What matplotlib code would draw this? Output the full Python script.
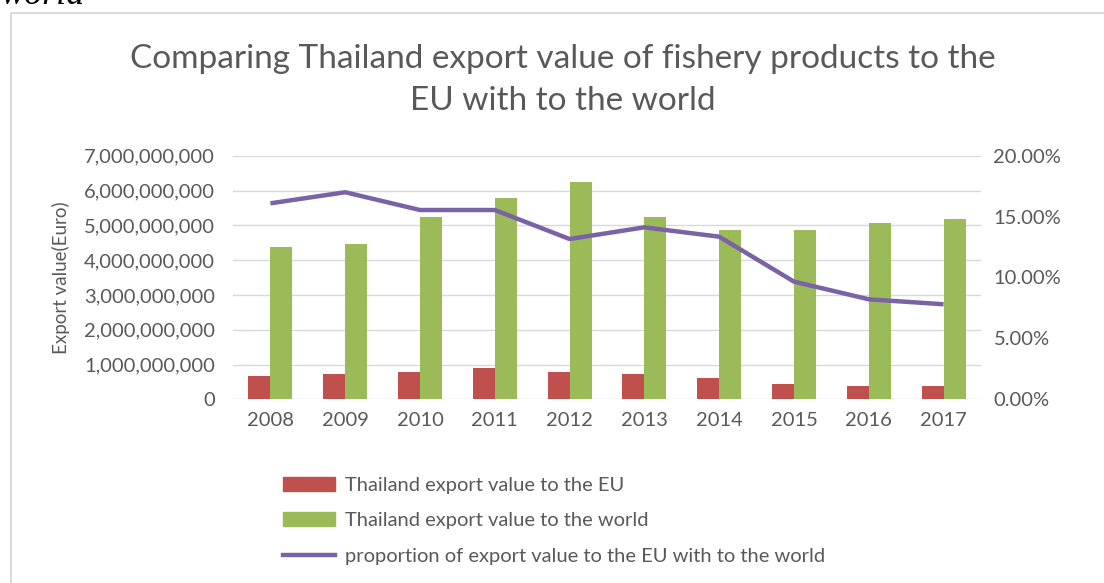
import matplotlib
matplotlib.use("Agg")
import matplotlib.pyplot as plt
from matplotlib.patches import Rectangle
from matplotlib.lines import Line2D
from matplotlib.ticker import FuncFormatter, MultipleLocator
import numpy as np

years = ["2008", "2009", "2010", "2011", "2012", "2013", "2014", "2015", "2016", "2017"]
export_eu = [0.67e9, 0.72e9, 0.78e9, 0.89e9, 0.78e9, 0.72e9, 0.62e9, 0.45e9, 0.39e9, 0.39e9]
export_world = [4.39e9, 4.45e9, 5.23e9, 5.79e9, 6.24e9, 5.23e9, 4.86e9, 4.86e9, 5.06e9, 5.17e9]
share_eu = [0.1609, 0.1700, 0.1554, 0.1554, 0.1316, 0.1412, 0.1335, 0.0966, 0.0821, 0.0780]

labels = [
    "Thailand export value to the EU",
    "Thailand export value to the world",
    "proportion of export value to the EU with to the world",
]

RED = "#C0504D"
GREEN = "#9BBB59"
PURPLE = "#7A62A4"
TEXT = "#595959"
GRID = "#D9D9D9"
FONT = "Lato"

plt.rcParams["font.family"] = [FONT, "DejaVu Sans"]

W, H = 1104, 583
fig = plt.figure(figsize=(W / 100, H / 100), dpi=100)

# caption fragment and chart frame
fig.text(0.0, 1 - 4 / H, "world", family="Liberation Serif", style="italic",
         fontsize=26, color="black", va="baseline", ha="left")
fig.patches.append(Rectangle((11 / W, -0.05), 1.2, 1 - 13 / H + 0.05,
                             transform=fig.transFigure, fill=False,
                             edgecolor="#D4D4D4", linewidth=1.2))

left, right = 233 / W, 981 / W
bottom, top = 1 - 399.3 / H, 1 - 155.7 / H
ax = fig.add_axes([left, bottom, right - left, top - bottom])
ax2 = ax.twinx()

x = np.arange(len(years))
bw = 0.294
ax.bar(x - bw / 2, export_eu, bw, color=RED, zorder=3, label=labels[0])
ax.bar(x + bw / 2, export_world, bw, color=GREEN, zorder=3, label=labels[1])
ax2.plot(x, share_eu, color=PURPLE, linewidth=3.2, solid_capstyle="butt",
         zorder=4, label=labels[2])

ax.set_xlim(-0.5, len(years) - 0.5)
ax.set_ylim(0, 7e9)
ax2.set_ylim(0, 0.20)
ax.yaxis.set_major_locator(MultipleLocator(1e9))
ax2.yaxis.set_major_locator(MultipleLocator(0.05))
ax.yaxis.set_major_formatter(FuncFormatter(lambda v, p: f"{v:,.0f}"))
ax2.yaxis.set_major_formatter(FuncFormatter(lambda v, p: f"{v * 100:.2f}%"))
ax.set_xticks(x)
ax.set_xticklabels(years)

ax.grid(axis="y", color=GRID, linewidth=1.0, zorder=0)
ax.set_axisbelow(True)
for a in (ax, ax2):
    for s in a.spines.values():
        s.set_visible(False)
    a.tick_params(length=0, colors=TEXT, labelsize=14.5)
ax.tick_params(axis="y", pad=13)
ax.tick_params(axis="x", pad=9)
ax2.tick_params(axis="y", pad=9)

ax.set_ylabel("Export value(Euro)", color=TEXT, fontsize=13.5)
ax.yaxis.set_label_coords(-0.218, 0.5)

fig.text(563 / W, 1 - 80 / H,
         "Comparing Thailand export value of fishery products to the\nEU with to the world",
         ha="center", va="center", fontsize=24, color=TEXT, linespacing=1.5)

handles = [
    Rectangle((0, 0), 1, 1, color=RED),
    Rectangle((0, 0), 1, 1, color=GREEN),
    Line2D([0], [0], color=PURPLE, linewidth=3.2),
]
fig.legend(handles, labels, loc="upper left",
           bbox_to_anchor=(265 / W, 1 - 459 / H), frameon=False,
           fontsize=14.5, labelcolor=TEXT, handlelength=2.6,
           handleheight=0.7, handletextpad=0.45, labelspacing=0.9)

fig.savefig("out.png", dpi=100, facecolor="white")
